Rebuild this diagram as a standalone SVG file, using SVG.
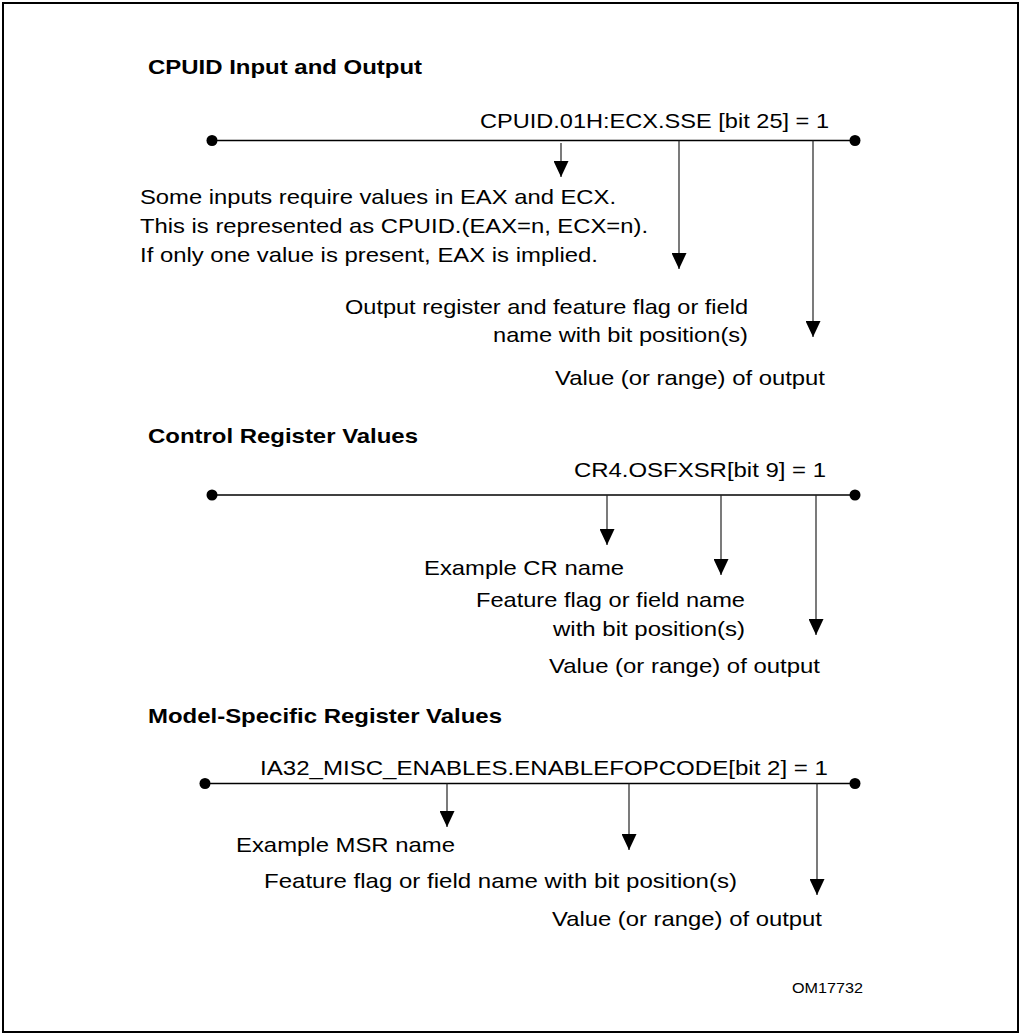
<svg xmlns="http://www.w3.org/2000/svg" width="1020" height="1034" viewBox="0 0 1020 1034">
<style>
text{font-family:"Liberation Sans",Arial,sans-serif;font-size:21px;fill:#000}
.t{font-weight:bold;font-size:21px}
.bar{stroke:#000;stroke-width:1.5;fill:none}
.arr{stroke:#222;stroke-width:1.2;fill:none;marker-end:url(#ah)}
.dot{fill:#000}
.id{font-size:15px}
</style>
<defs>
<marker id="ah" markerUnits="userSpaceOnUse" markerWidth="16" markerHeight="15" refX="16" refY="7.5" orient="auto" viewBox="0 0 16 15">
<path d="M0,0 L16,7.5 L0,15 z" fill="#000"/>
</marker>
</defs>
<rect x="3" y="3" width="1015" height="1029" fill="#fff" stroke="#000" stroke-width="2"/>
<g id="sec1">
<text class="t" x="148" y="74" textLength="274" lengthAdjust="spacingAndGlyphs">CPUID Input and Output</text>
<text x="480" y="128" textLength="349" lengthAdjust="spacingAndGlyphs">CPUID.01H:ECX.SSE [bit 25] = 1</text>
<text x="140" y="204" textLength="476" lengthAdjust="spacingAndGlyphs">Some inputs require values in EAX and ECX.</text>
<text x="140" y="233" textLength="508" lengthAdjust="spacingAndGlyphs">This is represented as CPUID.(EAX=n, ECX=n).</text>
<text x="140" y="262" textLength="458" lengthAdjust="spacingAndGlyphs">If only one value is present, EAX is implied.</text>
<text x="345" y="314" textLength="403" lengthAdjust="spacingAndGlyphs">Output register and feature flag or field</text>
<text x="493" y="342" textLength="255" lengthAdjust="spacingAndGlyphs">name with bit position(s)</text>
<text x="555" y="385" textLength="270" lengthAdjust="spacingAndGlyphs">Value (or range) of output</text>
</g>
<g id="sec2">
<text class="t" x="148" y="443" textLength="270" lengthAdjust="spacingAndGlyphs">Control Register Values</text>
<text x="574" y="477" textLength="252" lengthAdjust="spacingAndGlyphs">CR4.OSFXSR[bit 9] = 1</text>
<text x="424" y="575" textLength="200" lengthAdjust="spacingAndGlyphs">Example CR name</text>
<text x="476" y="607" textLength="269" lengthAdjust="spacingAndGlyphs">Feature flag or field name</text>
<text x="553" y="636" textLength="192" lengthAdjust="spacingAndGlyphs">with bit position(s)</text>
<text x="549" y="673" textLength="271" lengthAdjust="spacingAndGlyphs">Value (or range) of output</text>
</g>
<g id="sec3">
<text class="t" x="148" y="723" textLength="354" lengthAdjust="spacingAndGlyphs">Model-Specific Register Values</text>
<text x="260" y="775" textLength="568" lengthAdjust="spacingAndGlyphs">IA32_MISC_ENABLES.ENABLEFOPCODE[bit 2] = 1</text>
<text x="236" y="852" textLength="219" lengthAdjust="spacingAndGlyphs">Example MSR name</text>
<text x="264" y="888" textLength="473" lengthAdjust="spacingAndGlyphs">Feature flag or field name with bit position(s)</text>
<text x="552" y="926" textLength="270" lengthAdjust="spacingAndGlyphs">Value (or range) of output</text>
<text class="id" x="792" y="993" textLength="71" lengthAdjust="spacingAndGlyphs">OM17732</text>
</g>
<g id="connectors">
<line class="bar" x1="212" y1="140.5" x2="855" y2="140.5"/>
<circle class="dot" cx="212" cy="140.5" r="5.5"/>
<circle class="dot" cx="855" cy="140.5" r="5.5"/>
<line class="arr" x1="561" y1="143" x2="561" y2="177"/>
<line class="arr" x1="679" y1="140.5" x2="679" y2="269"/>
<line class="arr" x1="813" y1="140.5" x2="813" y2="337"/>
<line class="bar" x1="212" y1="495" x2="855" y2="495"/>
<circle class="dot" cx="212" cy="495" r="5.5"/>
<circle class="dot" cx="855" cy="495" r="5.5"/>
<line class="arr" x1="607" y1="495" x2="607" y2="545"/>
<line class="arr" x1="721" y1="495" x2="721" y2="575"/>
<line class="arr" x1="816" y1="495" x2="816" y2="635"/>
<line class="bar" x1="205" y1="783.5" x2="855" y2="783.5"/>
<circle class="dot" cx="205" cy="783.5" r="5.5"/>
<circle class="dot" cx="855" cy="783.5" r="5.5"/>
<line class="arr" x1="447" y1="783.5" x2="447" y2="827"/>
<line class="arr" x1="629" y1="783.5" x2="629" y2="850"/>
<line class="arr" x1="817" y1="783.5" x2="817" y2="895"/>
</g>
</svg>
